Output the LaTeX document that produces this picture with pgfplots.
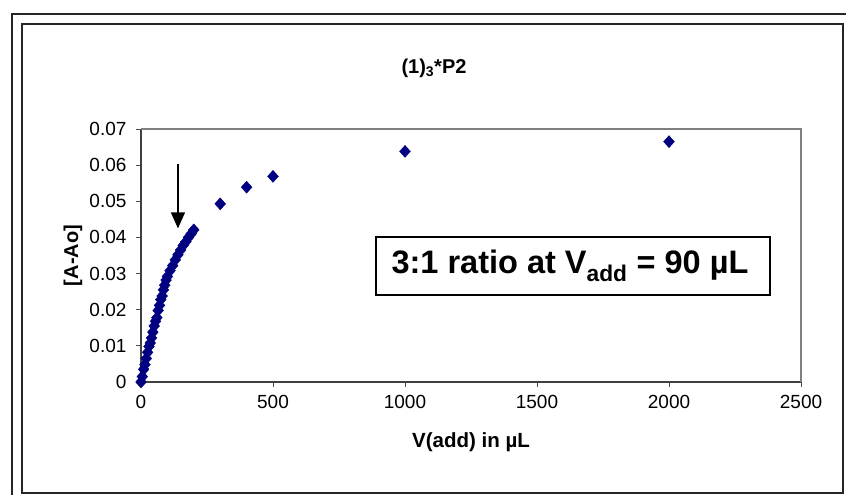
\documentclass[border=0pt]{standalone}
\usepackage{pgfplots}
\pgfplotsset{compat=1.18}
\usepackage{fontspec}
\setmainfont{Liberation Sans}
\usetikzlibrary{arrows.meta}
\definecolor{navy}{HTML}{000080}
\definecolor{frame}{HTML}{808080}
\begin{document}
\begin{tikzpicture}
\useasboundingbox (0pt,0pt) rectangle (846pt,495pt);
\clip (0pt,0pt) rectangle (846pt,495pt);
\draw[line width=1.6pt,black!85] (12pt,481pt) rectangle (870pt,-20pt);
\draw[line width=1.6pt,black!85] (22pt,471pt) rectangle (843pt,2pt);
\node[font=\bfseries\fontsize{20}{23}\selectfont] at (434pt,427pt) {(1)\textsubscript{3}*P2};
\begin{axis}[
  at={(141pt,113pt)}, anchor=south west,
  width=660pt, height=253pt, scale only axis,
  xmin=0, xmax=2500, ymin=0, ymax=0.07,
  xtick={0,500,...,2500}, ytick={0,0.01,...,0.07},
  axis lines=left, axis line style={-, draw=black!75, line width=1.2pt},
  tick align=outside, major tick length=5pt,
  tick style={black!70, line width=0.8pt},
  /pgf/number format/assume math mode=true,
  /pgf/number format/1000 sep={},
  yticklabel style={/pgf/number format/fixed, /pgf/number format/precision=2, font=\fontsize{19}{21}\selectfont, xshift=-6pt},
  xticklabel style={font=\fontsize{19}{21}\selectfont, yshift=-5pt},
  scaled y ticks=false,
  xlabel={V(add) in µL}, ylabel={[A-Ao]},
  xlabel style={font=\bfseries\fontsize{20.5}{23}\selectfont, at={(axis description cs:0.5,-0.237)}, anchor=center},
  ylabel style={font=\bfseries\fontsize{20}{23}\selectfont, at={(axis description cs:-0.103,0.5)}, anchor=center},
  clip=false,
]
\draw[frame, line width=1.2pt] (axis description cs:0,1) -- (axis description cs:1,1) -- (axis description cs:1,0);
\addplot[only marks, mark=diamond*, mark size=6pt, mark options={xscale=1.2, fill=navy, draw=navy}] coordinates {
(0,0) (5,0.0015) (10,0.0035) (15,0.0048) (20,0.0065) (25,0.0082) (30,0.0098) (35,0.0108) (40,0.0122) (45,0.0138) (50,0.0155) (55,0.0168) (60,0.0178) (65,0.0198) (70,0.0212) (75,0.0228) (80,0.0238) (85,0.0255) (90,0.0268) (95,0.0282) (100,0.0292) (110,0.0308) (120,0.0322) (130,0.0338) (140,0.0352) (150,0.0365) (160,0.0378) (170,0.0388) (180,0.0400) (190,0.0410) (200,0.0421)
(300,0.0493) (400,0.0539) (500,0.0569) (1000,0.0638) (2000,0.0665)
};
\draw[black, line width=1.3pt, -{Triangle[width=14pt,length=16pt]}] (axis cs:140,0.0602) -- (axis cs:140,0.0425);
\end{axis}
\draw[black, line width=1.6pt, fill=white] (376pt,258pt) rectangle (770pt,200pt);
\node[font=\bfseries\fontsize{32.5}{36}\selectfont] at (570pt,229pt) {3:1 ratio at V\textsubscript{add} = 90 µL};
\end{tikzpicture}
\end{document}
